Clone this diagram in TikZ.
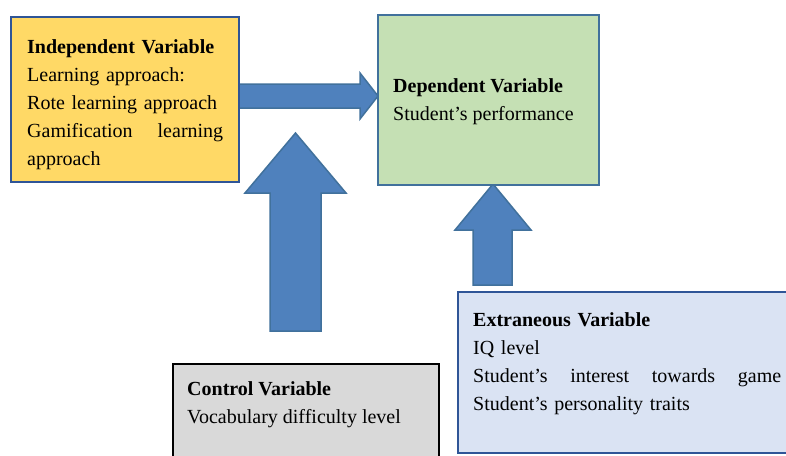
\documentclass[tikz,border=0pt]{standalone}
\usepackage{fontspec}
\setmainfont{Liberation Serif}
\usepackage{tikz}
\usetikzlibrary{positioning}
\usepackage{xcolor}
\definecolor{indfill}{HTML}{FFD966}
\definecolor{depfill}{HTML}{C5E0B4}
\definecolor{ctrlfill}{HTML}{D9D9D9}
\definecolor{extfill}{HTML}{DAE3F3}
\definecolor{boxline}{HTML}{2F5597}
\definecolor{depline}{HTML}{41719C}
\definecolor{arrfill}{HTML}{4F81BD}
\definecolor{arrline}{HTML}{41719C}

\begin{document}
\begin{tikzpicture}[x=1pt, y=-1pt,
    varbox/.style={draw, line width=2pt, inner sep=0pt, anchor=north west},
    vartext/.style={inner sep=0pt, anchor=north west, align=left,
        font=\fontsize{20}{28}\selectfont},
    blockarrow/.style={draw=arrline, fill=arrfill, line width=1.5pt, line join=miter}]
    \useasboundingbox (0,0) rectangle (786,455);
    \clip (0,0) rectangle (786,455);
    \fill[white] (0,0) rectangle (786,455);

    \draw[blockarrow] (238,84)--(360,84)--(360,73)--(378,96)--(360,119)--(360,108)--(238,108)--cycle;
    \draw[blockarrow] (270,331)--(270,193)--(245,193)--(295.5,133)--(346,193)--(321,193)--(321,331)--cycle;
    \draw[blockarrow] (473,285)--(473,230)--(455,230)--(493,184)--(531,230)--(512,230)--(512,285)--cycle;

    \node[varbox, draw=boxline, fill=indfill, minimum width=228pt, minimum height=165pt] (indep) at (10,16) {};
    \node[varbox, draw=depline, fill=depfill, minimum width=221pt, minimum height=170pt] (dep) at (377,14) {};
    \node[varbox, draw=black, fill=ctrlfill, minimum width=266pt, minimum height=110pt] (ctrl) at (172,363) {};
    \node[varbox, draw=boxline, fill=extfill, minimum width=350pt, minimum height=161pt] (ext) at (457,291) {};

    \node[vartext, text width=196pt] (indeptext) at ([xshift=17pt, yshift=-23pt]indep.north west)
        {\textbf{Independent Variable}\\Learning approach:\\Rote learning approach\\Gamification\hfill learning\\approach};
    \node[vartext] (deptext) at ([xshift=16pt, yshift=-64.5pt]dep.north west)
        {\textbf{Dependent Variable}\\Student's performance};
    \node[vartext] (ctrltext) at ([xshift=15pt, yshift=-18.5pt]ctrl.north west)
        {\textbf{Control Variable}\\Vocabulary difficulty level};
    \node[vartext, text width=308pt] (exttext) at ([xshift=16pt, yshift=-21pt]ext.north west)
        {\textbf{Extraneous Variable}\\IQ level\\Student's\hfill interest\hfill towards\hfill game\\Student's personality traits};
\end{tikzpicture}
\end{document}
